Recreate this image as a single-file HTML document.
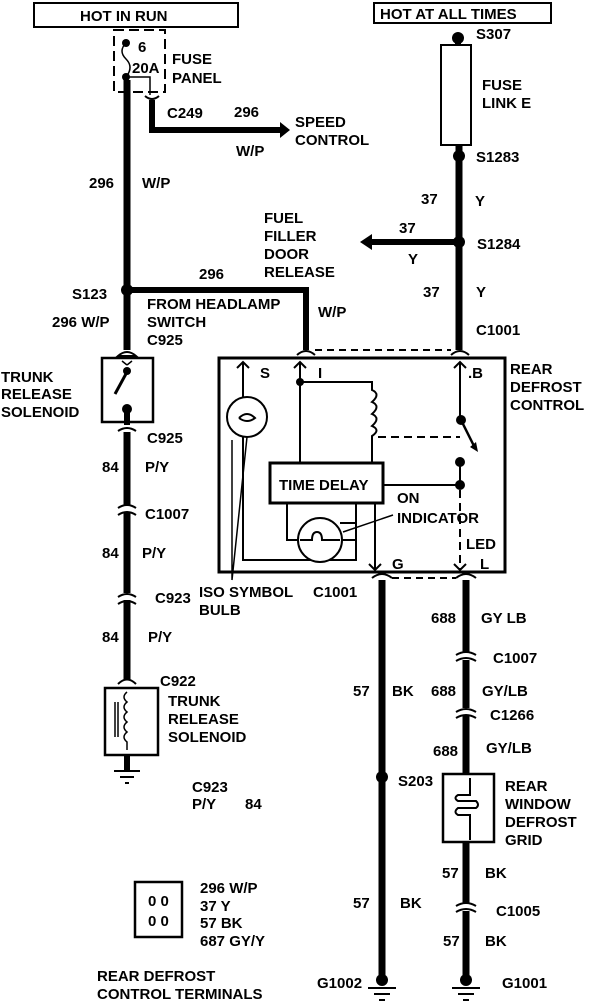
<!DOCTYPE html>
<html><head><meta charset="utf-8"><style>
html,body{margin:0;padding:0;background:#fff}
svg{display:block}
text{font-family:"Liberation Sans",Arial,sans-serif;font-weight:bold;font-size:15px;fill:#000}
</style></head><body>
<svg width="608" height="1006" viewBox="0 0 608 1006" xmlns="http://www.w3.org/2000/svg">
<!-- headers -->
<rect x="34" y="3" width="204" height="24" fill="none" stroke="#000" stroke-width="2"/>
<text x="80" y="21" font-size="16">HOT IN RUN</text>
<rect x="374" y="3" width="177" height="20" fill="none" stroke="#000" stroke-width="2"/>
<text x="380" y="19" font-size="16">HOT AT ALL TIMES</text>

<!-- fuse panel -->
<rect x="114" y="30" width="51" height="62" fill="none" stroke="#000" stroke-width="2" stroke-dasharray="10,5"/>
<circle cx="126" cy="43" r="4"/><circle cx="126" cy="77" r="4"/>
<path d="M126 43 q-8 8 0 16 q8 8 0 18" fill="none" stroke="#000" stroke-width="1.5"/>
<text x="138" y="52">6</text>
<text x="132" y="73" font-weight="normal" font-size="13">20A</text>
<text x="172" y="64">FUSE</text><text x="172" y="83">PANEL</text>
<path d="M126 77 H150 V95" fill="none" stroke="#000" stroke-width="1.5"/>
<!-- C249 branch -->
<path d="M145 96 q7 6 14 0" fill="none" stroke="#000" stroke-width="2"/>
<path d="M152 100 V130 H282" fill="none" stroke="#000" stroke-width="6"/>
<polygon points="280,122 290,130 280,138" />
<text x="167" y="118">C249</text><text x="234" y="117">296</text>
<text x="295" y="127">SPEED</text><text x="295" y="145">CONTROL</text>
<text x="236" y="156">W/P</text>

<!-- left main wire -->
<path d="M127 80 V350" stroke="#000" stroke-width="7"/>
<text x="89" y="188">296</text><text x="142" y="188">W/P</text>
<circle cx="127" cy="290" r="6"/>
<path d="M127 290 H306 V350" fill="none" stroke="#000" stroke-width="6"/>
<text x="72" y="299">S123</text><text x="52" y="327">296 W/P</text>
<text x="147" y="309">FROM HEADLAMP</text><text x="147" y="327">SWITCH</text><text x="147" y="345">C925</text>
<text x="199" y="279">296</text><text x="318" y="317">W/P</text>

<!-- upper trunk solenoid -->
<path d="M118 356 q9 -8 18 0 z" fill="none" stroke="#000" stroke-width="2"/>
<rect x="102" y="358" width="51" height="64" fill="none" stroke="#000" stroke-width="2.5"/>
<path d="M127 365 l-5 -4 M127 365 l5 -4" stroke="#000" stroke-width="1.5"/>
<circle cx="127" cy="371" r="4"/>
<path d="M127 372 L115 394" stroke="#000" stroke-width="3"/>
<circle cx="127" cy="409" r="5"/>
<path d="M127 409 V425" stroke="#000" stroke-width="6"/>
<text x="1" y="382">TRUNK</text><text x="1" y="399">RELEASE</text><text x="1" y="417">SOLENOID</text>
<path d="M118 431 q9 -6 18 0" fill="none" stroke="#000" stroke-width="2"/>
<path d="M127 432 V505 M127 512 V593 M127 600 V680" stroke="#000" stroke-width="7"/>
<text x="147" y="443">C925</text>
<text x="102" y="472">84</text><text x="145" y="472">P/Y</text>
<path d="M118 508 q9 -6 18 0 M118 515 q9 -6 18 0" fill="none" stroke="#000" stroke-width="2"/>
<text x="145" y="519" font-weight="normal">C1007</text>
<text x="102" y="558">84</text><text x="142" y="558">P/Y</text>
<path d="M118 597 q9 -6 18 0 M118 604 q9 -6 18 0" fill="none" stroke="#000" stroke-width="2"/>
<text x="155" y="603">C923</text>
<text x="102" y="642">84</text><text x="148" y="642">P/Y</text>

<!-- lower trunk solenoid -->
<path d="M118 684 q9 -9 18 0" fill="none" stroke="#000" stroke-width="2"/>
<text x="160" y="686">C922</text>
<rect x="105" y="688" width="53" height="67" fill="none" stroke="#000" stroke-width="2.5"/>
<path d="M127 692 q-6 5 0 10 q-6 5 0 10 q-6 5 0 10 q-6 5 0 10 q-6 5 0 10 V750" fill="none" stroke="#000" stroke-width="1.5"/>
<path d="M115 702 V737 M118 702 V737" stroke="#000" stroke-width="1.5"/>
<path d="M127 755 V770" stroke="#000" stroke-width="6"/>
<path d="M114 771 H140 M120 777 H134 M125 783 H129" stroke="#000" stroke-width="2"/>
<text x="168" y="706">TRUNK</text><text x="168" y="724">RELEASE</text><text x="168" y="742">SOLENOID</text>
<text x="192" y="792">C923</text><text x="192" y="809">P/Y</text><text x="245" y="809">84</text>

<!-- terminal box -->
<rect x="135" y="882" width="47" height="55" fill="none" stroke="#000" stroke-width="2.5"/>
<text x="148" y="906" font-size="12">0 0</text><text x="148" y="926" font-size="12">0 0</text>
<text x="200" y="893">296 W/P</text><text x="200" y="911">37 Y</text><text x="200" y="928">57 BK</text><text x="200" y="946">687 GY/Y</text>
<text x="97" y="981">REAR DEFROST</text><text x="97" y="999">CONTROL TERMINALS</text>

<!-- right side -->
<circle cx="458" cy="38" r="6"/>
<path d="M458 38 V46" stroke="#000" stroke-width="6"/>
<rect x="441" y="45" width="30" height="100" fill="#fff" stroke="#000" stroke-width="2"/>
<text x="476" y="39">S307</text>
<text x="482" y="90">FUSE</text><text x="482" y="108">LINK E</text>
<circle cx="459" cy="156" r="6"/>
<path d="M459 145 V350" stroke="#000" stroke-width="7"/>
<text x="476" y="162">S1283</text>
<text x="421" y="204">37</text><text x="475" y="206">Y</text>
<circle cx="459" cy="242" r="6"/>
<path d="M459 242 H370" stroke="#000" stroke-width="6"/>
<polygon points="372,234 360,242 372,250"/>
<text x="399" y="233">37</text><text x="408" y="264">Y</text>
<text x="477" y="249">S1284</text>
<text x="264" y="223">FUEL</text><text x="264" y="241">FILLER</text><text x="264" y="259">DOOR</text><text x="264" y="277">RELEASE</text>
<text x="423" y="297">37</text><text x="476" y="297">Y</text>
<text x="476" y="335">C1001</text>

<!-- rear defrost control -->
<path d="M297 355 q9 -8 18 0 M451 355 q9 -8 18 0" fill="none" stroke="#000" stroke-width="2"/>
<path d="M315 350 H451" stroke="#000" stroke-width="2" stroke-dasharray="7,5"/>
<rect x="219" y="358" width="286" height="214" fill="none" stroke="#000" stroke-width="3"/>
<text x="510" y="374">REAR</text><text x="510" y="392">DEFROST</text><text x="510" y="410">CONTROL</text>
<path d="M243 362 V560 H356 V503 M237 368 l6 -6 6 6" fill="none" stroke="#000" stroke-width="2"/>
<text x="260" y="378">S</text>
<circle cx="247" cy="417" r="20" fill="#fff" stroke="#000" stroke-width="2"/>
<path d="M239 418 q8 -8 16 0 q-8 6 -16 0" fill="none" stroke="#000" stroke-width="2"/>
<path d="M300 362 V463 M294 368 l6 -6 6 6" fill="none" stroke="#000" stroke-width="2"/>
<circle cx="300" cy="382" r="4"/>
<text x="318" y="378">I</text>
<path d="M300 382 H372 V390 q9 4 0 12 q9 4 0 12 q9 4 0 12 q9 4 0 10 V463" fill="none" stroke="#000" stroke-width="2"/>
<path d="M378 437 H460" stroke="#000" stroke-width="2" stroke-dasharray="8,5"/>
<rect x="270" y="463" width="113" height="40" fill="#fff" stroke="#000" stroke-width="3"/>
<text x="279" y="490" font-size="16">TIME DELAY</text>
<path d="M287 503 V540 H300 M340 540 H356 M356 523 H340" fill="none" stroke="#000" stroke-width="2"/>
<circle cx="320" cy="540" r="22" fill="#fff" stroke="#000" stroke-width="2"/>
<path d="M300 540 H312 q0 -8 5 -8 q5 0 5 8 H340" fill="none" stroke="#000" stroke-width="2"/>
<path d="M343 532 L393 515" stroke="#000" stroke-width="1.5"/>
<text x="397" y="503">ON</text><text x="397" y="523">INDICATOR</text>
<path d="M460 362 V420 M454 368 l6 -6 6 6" fill="none" stroke="#000" stroke-width="2"/>
<text x="468" y="378">.B</text>
<circle cx="461" cy="420" r="5"/>
<path d="M461 420 L475 448" stroke="#000" stroke-width="2.5"/>
<polygon points="470,447 478,452 476,442"/>
<circle cx="460" cy="462" r="5"/><circle cx="460" cy="485" r="5"/>
<path d="M460 462 V485 H383" fill="none" stroke="#000" stroke-width="2"/>
<path d="M460 490 V570" stroke="#000" stroke-width="2" stroke-dasharray="8,5"/>
<path d="M375 503 V570 M369 564 l6 6 6 -6 M454 564 l6 6 6 -6" fill="none" stroke="#000" stroke-width="2"/>
<text x="466" y="549">LED</text><text x="480" y="569">L</text><text x="392" y="569">G</text>
<path d="M372 578 q10 -8 20 0 M456 578 q10 -8 20 0" fill="none" stroke="#000" stroke-width="2"/>
<path d="M392 578 H456" stroke="#000" stroke-width="2" stroke-dasharray="7,5"/>
<path d="M247 437 L232 580 M232 440 L232 580" stroke="#000" stroke-width="1.5"/>
<text x="199" y="597">ISO SYMBOL</text><text x="199" y="615">BULB</text>
<text x="313" y="597">C1001</text>

<!-- G wire -->
<path d="M382 580 V985" stroke="#000" stroke-width="7"/>
<circle cx="382" cy="777" r="6"/><circle cx="382" cy="980" r="6"/>
<path d="M368 988 H396 M374 994 H390 M379 1000 H385" stroke="#000" stroke-width="2"/>
<text x="353" y="696">57</text><text x="392" y="696">BK</text>
<text x="398" y="786">S203</text>
<text x="353" y="908">57</text><text x="400" y="908">BK</text>
<text x="317" y="988">G1002</text>

<!-- L wire -->
<path d="M466 580 V653 M466 660 V708 M466 716 V774 M466 842 V903 M466 911 V985" stroke="#000" stroke-width="7"/>
<path d="M456 655 q10 -6 20 0 M456 661 q10 -6 20 0 M456 712 q10 -6 20 0 M456 718 q10 -6 20 0 M456 906 q10 -6 20 0 M456 912 q10 -6 20 0" fill="none" stroke="#000" stroke-width="2"/>
<text x="431" y="623">688</text><text x="481" y="623">GY LB</text>
<text x="493" y="663">C1007</text>
<text x="431" y="696">688</text><text x="482" y="696">GY/LB</text>
<text x="490" y="720">C1266</text>
<text x="433" y="756">688</text><text x="486" y="753">GY/LB</text>
<rect x="443" y="774" width="51" height="68" fill="none" stroke="#000" stroke-width="2.5"/>
<path d="M470 778 V795 H458 q-5 3 0 6 H476 q4 4 0 7 H458 q-5 4 0 7 H470 V840" fill="none" stroke="#000" stroke-width="2"/>
<text x="505" y="791">REAR</text><text x="505" y="809">WINDOW</text><text x="505" y="827">DEFROST</text><text x="505" y="845">GRID</text>
<text x="442" y="878">57</text><text x="485" y="878">BK</text>
<text x="496" y="916">C1005</text>
<text x="443" y="946">57</text><text x="485" y="946">BK</text>
<circle cx="466" cy="980" r="6"/>
<path d="M452 988 H480 M458 994 H474 M463 1000 H469" stroke="#000" stroke-width="2"/>
<text x="502" y="988">G1001</text>
</svg>
</body></html>
